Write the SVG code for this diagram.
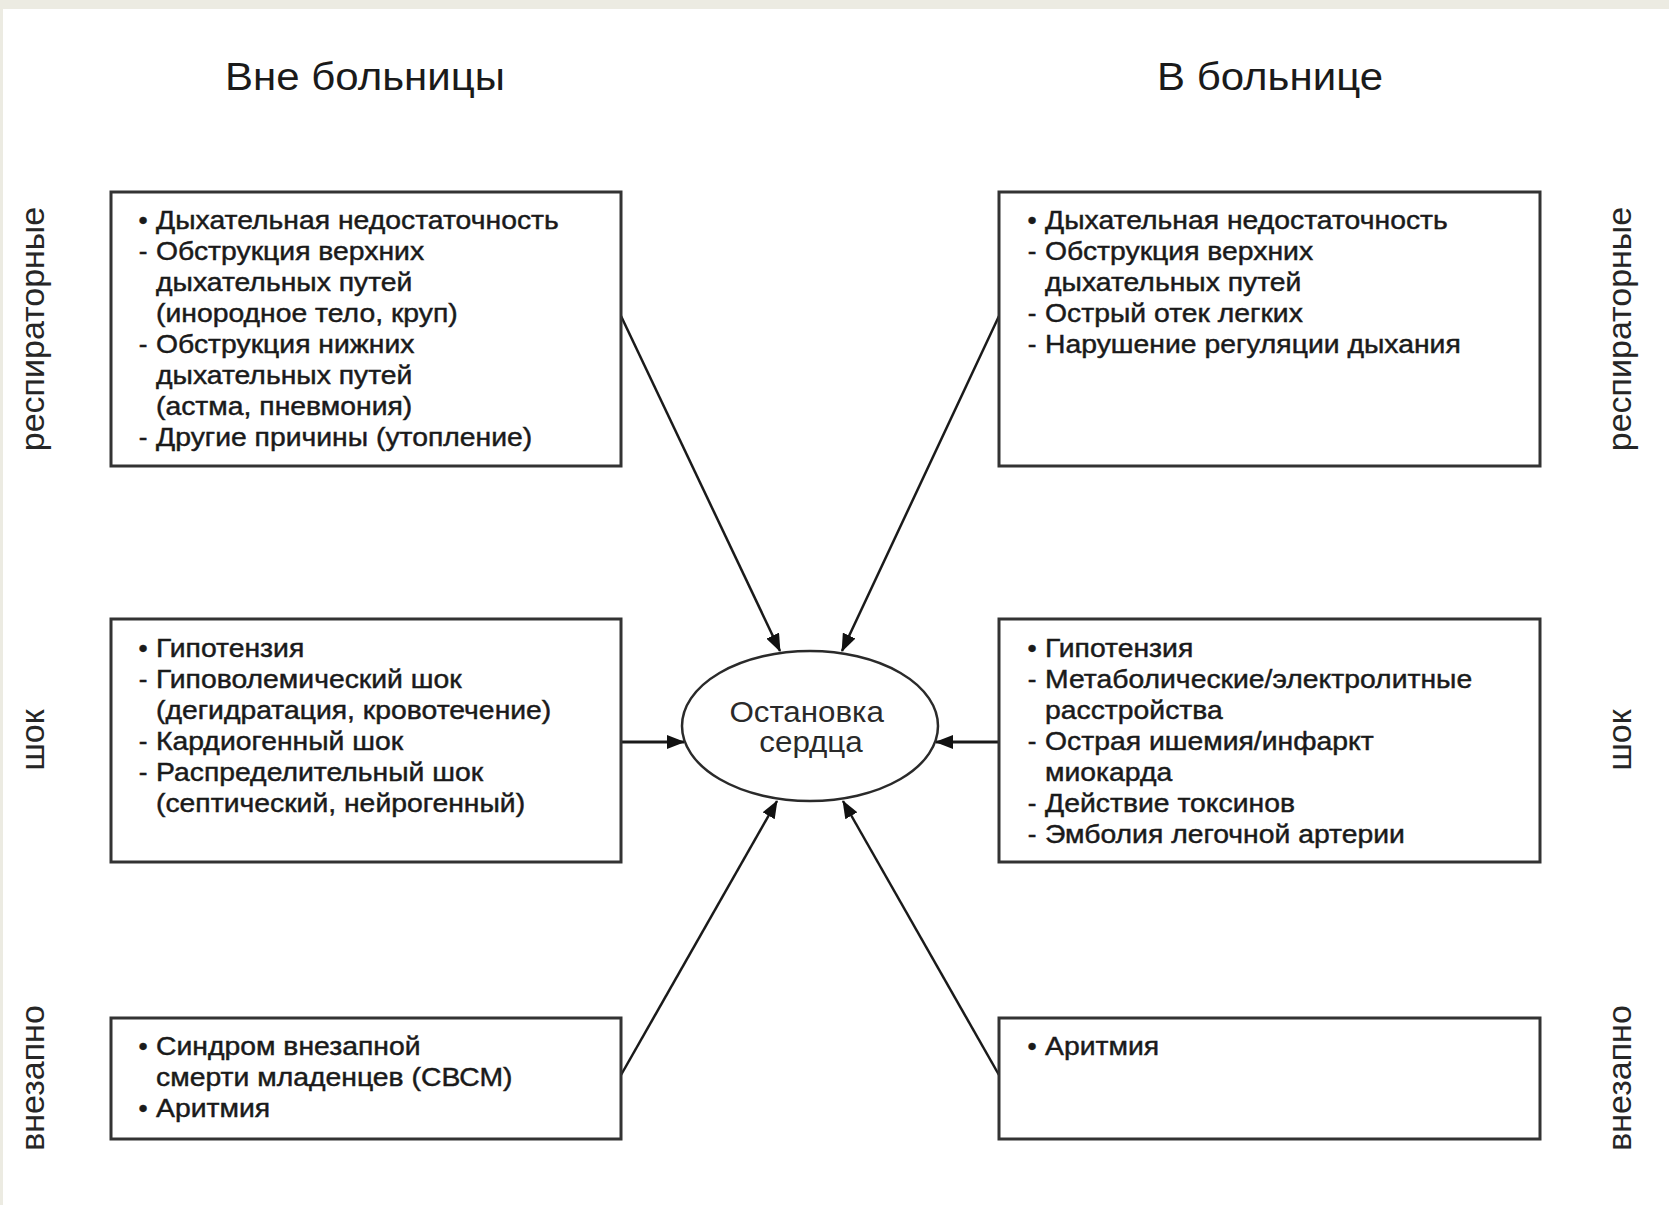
<svg xmlns="http://www.w3.org/2000/svg" width="1669" height="1205" viewBox="0 0 1669 1205">
<style>
.bg{fill:#ffffff}
.box{fill:#ffffff;stroke:#333;stroke-width:3}
.ell{fill:#ffffff;stroke:#2a2a2a;stroke-width:2.5}
.t{font-family:"Liberation Sans",Arial,sans-serif;fill:#1a1a1a}
.title{font-size:39px;text-anchor:middle}
.side{font-size:34px;text-anchor:middle;fill:#262626}
.body{font-size:26px;stroke:#1a1a1a;stroke-width:0.45}
.mk{font-size:26px;text-anchor:middle;stroke:#1a1a1a;stroke-width:0.45}
.center{font-size:29px;text-anchor:middle;fill:#2a2a2a}
.con{stroke:#1a1a1a;stroke-width:2.5;fill:none;marker-end:url(#ah)}
.conh{stroke:#1a1a1a;stroke-width:3;fill:none;marker-end:url(#ah)}
</style>
<defs>
<marker id="ah" viewBox="0 0 18 14" refX="17" refY="7" markerWidth="18" markerHeight="14" markerUnits="userSpaceOnUse" orient="auto">
<path d="M0,0 L18,7 L0,14 z" fill="#111"/>
</marker>
</defs>
<rect class="bg" x="0" y="0" width="1669" height="1205"/>
<rect x="0" y="0" width="1669" height="9" fill="#ecebe2"/>
<rect x="0" y="0" width="3" height="1205" fill="#ecebe2"/>

<g id="titles">
<text class="t title" transform="matrix(1.077 0 0 1 365 90)" x="0" y="0">Вне больницы</text>
<text class="t title" transform="matrix(1.077 0 0 1 1270 90)" x="0" y="0">В больнице</text>
</g>

<g id="side-labels">
<text class="t side" transform="translate(44 329) rotate(-90)">респираторные</text>
<text class="t side" transform="translate(44 740) rotate(-90)">шок</text>
<text class="t side" transform="translate(44 1078) rotate(-90)">внезапно</text>
<text class="t side" transform="translate(1631 329) rotate(-90)">респираторные</text>
<text class="t side" transform="translate(1631 740) rotate(-90)">шок</text>
<text class="t side" transform="translate(1631 1078) rotate(-90)">внезапно</text>
</g>

<g id="connectors">
<line class="con" x1="621" y1="316" x2="780" y2="651"/>
<line class="con" x1="999" y1="316" x2="842" y2="651"/>
<line class="conh" x1="621" y1="742" x2="684" y2="742"/>
<line class="conh" x1="999" y1="742" x2="936" y2="742"/>
<line class="con" x1="621" y1="1075" x2="777" y2="801"/>
<line class="con" x1="999" y1="1075" x2="843" y2="801"/>
</g>

<g id="out-resp">
<rect class="box" x="111" y="192" width="510" height="274"/>
<text class="t mk" x="143" y="229">•</text>
<text class="t mk" x="143" y="260">-</text>
<text class="t mk" x="143" y="353">-</text>
<text class="t mk" x="143" y="446">-</text>
<text class="t body" transform="matrix(1.09 0 0 1 156 0)">
<tspan x="0" y="229">Дыхательная недостаточность</tspan>
<tspan x="0" y="260">Обструкция верхних</tspan>
<tspan x="0" y="291">дыхательных путей</tspan>
<tspan x="0" y="322">(инородное тело, круп)</tspan>
<tspan x="0" y="353">Обструкция нижних</tspan>
<tspan x="0" y="384">дыхательных путей</tspan>
<tspan x="0" y="415">(астма, пневмония)</tspan>
<tspan x="0" y="446">Другие причины (утопление)</tspan>
</text>
</g>

<g id="out-shock">
<rect class="box" x="111" y="619" width="510" height="243"/>
<text class="t mk" x="143" y="657">•</text>
<text class="t mk" x="143" y="688">-</text>
<text class="t mk" x="143" y="750">-</text>
<text class="t mk" x="143" y="781">-</text>
<text class="t body" transform="matrix(1.09 0 0 1 156 0)">
<tspan x="0" y="657">Гипотензия</tspan>
<tspan x="0" y="688">Гиповолемический шок</tspan>
<tspan x="0" y="719">(дегидратация, кровотечение)</tspan>
<tspan x="0" y="750">Кардиогенный шок</tspan>
<tspan x="0" y="781">Распределительный шок</tspan>
<tspan x="0" y="812">(септический, нейрогенный)</tspan>
</text>
</g>

<g id="out-sudden">
<rect class="box" x="111" y="1018" width="510" height="121"/>
<text class="t mk" x="143" y="1055">•</text>
<text class="t mk" x="143" y="1117">•</text>
<text class="t body" transform="matrix(1.09 0 0 1 156 0)">
<tspan x="0" y="1055">Синдром внезапной</tspan>
<tspan x="0" y="1086">смерти младенцев (СВСМ)</tspan>
<tspan x="0" y="1117">Аритмия</tspan>
</text>
</g>

<g id="in-resp">
<rect class="box" x="999" y="192" width="541" height="274"/>
<text class="t mk" x="1032" y="229">•</text>
<text class="t mk" x="1032" y="260">-</text>
<text class="t mk" x="1032" y="322">-</text>
<text class="t mk" x="1032" y="353">-</text>
<text class="t body" transform="matrix(1.09 0 0 1 1045 0)">
<tspan x="0" y="229">Дыхательная недостаточность</tspan>
<tspan x="0" y="260">Обструкция верхних</tspan>
<tspan x="0" y="291">дыхательных путей</tspan>
<tspan x="0" y="322">Острый отек легких</tspan>
<tspan x="0" y="353">Нарушение регуляции дыхания</tspan>
</text>
</g>

<g id="in-shock">
<rect class="box" x="999" y="619" width="541" height="243"/>
<text class="t mk" x="1032" y="657">•</text>
<text class="t mk" x="1032" y="688">-</text>
<text class="t mk" x="1032" y="750">-</text>
<text class="t mk" x="1032" y="812">-</text>
<text class="t mk" x="1032" y="843">-</text>
<text class="t body" transform="matrix(1.09 0 0 1 1045 0)">
<tspan x="0" y="657">Гипотензия</tspan>
<tspan x="0" y="688">Метаболические/электролитные</tspan>
<tspan x="0" y="719">расстройства</tspan>
<tspan x="0" y="750">Острая ишемия/инфаркт</tspan>
<tspan x="0" y="781">миокарда</tspan>
<tspan x="0" y="812">Действие токсинов</tspan>
<tspan x="0" y="843">Эмболия легочной артерии</tspan>
</text>
</g>

<g id="in-sudden">
<rect class="box" x="999" y="1018" width="541" height="121"/>
<text class="t mk" x="1032" y="1055">•</text>
<text class="t body" transform="matrix(1.09 0 0 1 1045 0)">
<tspan x="0" y="1055">Аритмия</tspan>
</text>
</g>

<g id="cardiac-arrest">
<ellipse class="ell" cx="810" cy="726" rx="128" ry="75"/>
<text class="t center" transform="matrix(1.08 0 0 1 811 0)">
<tspan x="0" y="722">Остановка</tspan>
<tspan x="0" y="752">сердца</tspan>
</text>
</g>
</svg>
